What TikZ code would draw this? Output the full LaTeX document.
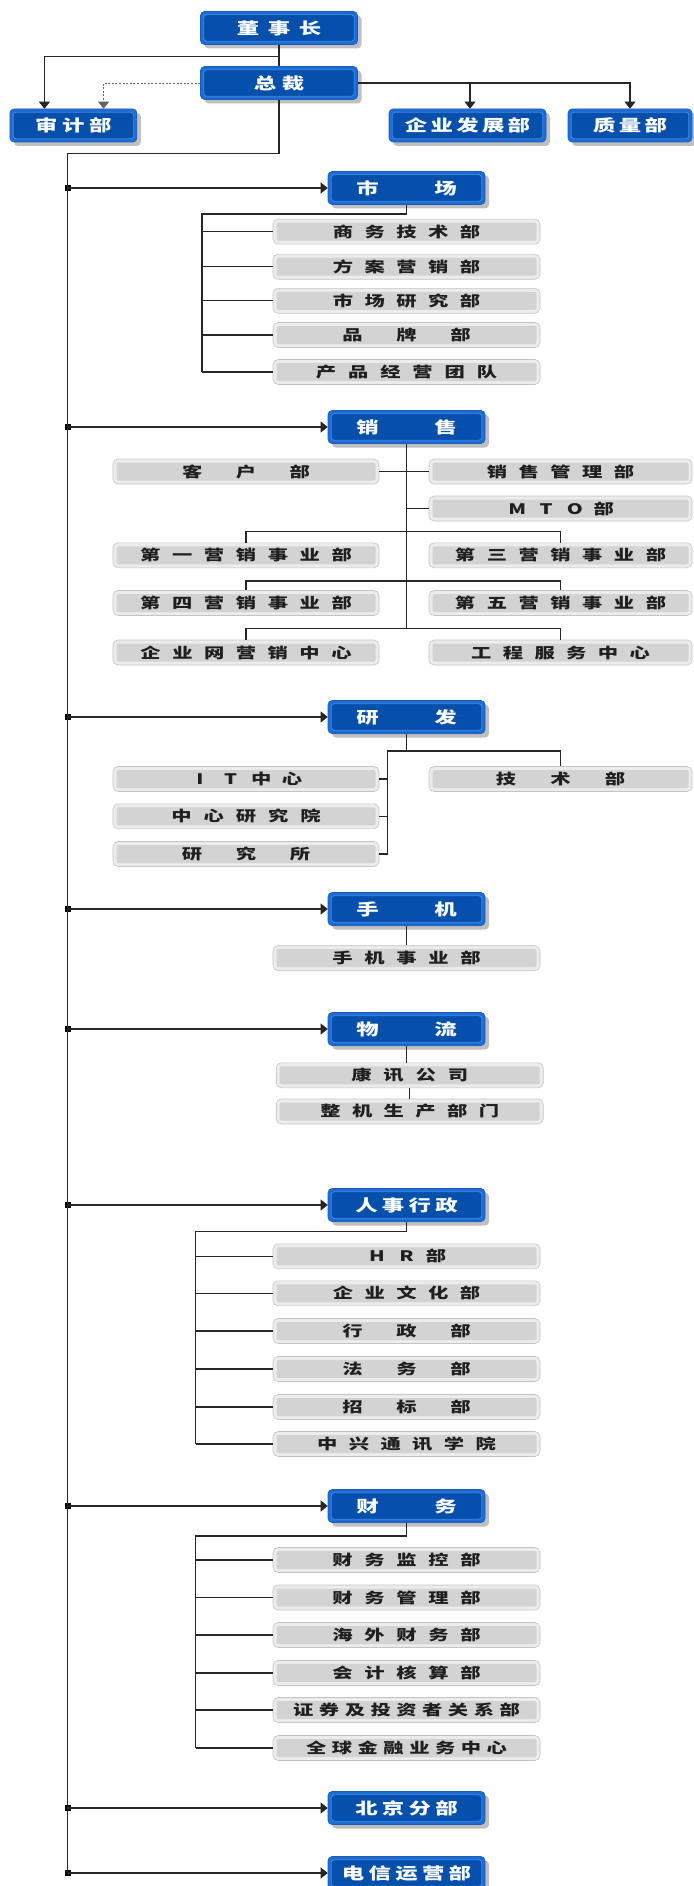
\documentclass[tikz,border=0pt]{standalone}
\usepackage{fontspec}
\usepackage{graphicx}
\newfontfamily\cjk{Noto Sans CJK SC}
\usetikzlibrary{arrows.meta,shadows}
\definecolor{bout}{HTML}{1F6CD6}
\definecolor{bin}{HTML}{0650AC}
\definecolor{bline}{HTML}{3F8AE8}
\definecolor{gout}{HTML}{ECECEC}
\definecolor{gedge}{HTML}{C4C4C4}
\definecolor{gin}{HTML}{D3D3D3}
\newcommand\spreadtxt[2]{\def\sppitch{#1}\spreadloop#2\relax}
\def\spreadloop#1{\ifx\relax#1\else\makebox[\sppitch][c]{\scalebox{1.4}[1]{#1}}\expandafter\spreadloop\fi}
\tikzset{
  bluebox/.style={rounded corners=4pt, fill=bout, draw=bout!85!black, line width=0.6pt,
    minimum height=33pt, minimum width=157pt, inner sep=0pt, text=white,
    font=\cjk\bfseries\fontsize{16}{16}\selectfont,
    drop shadow={shadow xshift=4pt, shadow yshift=-4pt, fill=black, opacity=0.25},
    path picture={\draw[bline, line width=0.8pt, fill=bin, rounded corners=3pt]
      ([shift={(3.2pt,-3.2pt)}]path picture bounding box.north west) rectangle
      ([shift={(-3.2pt,3.2pt)}]path picture bounding box.south east);}},
  graybox/.style={rounded corners=5pt, fill=gout, draw=gedge, line width=0.6pt,
    minimum height=25pt, minimum width=267pt, inner sep=0pt, text=black!88,
    font=\cjk\bfseries\fontsize{14.5}{14.5}\selectfont,
    path picture={\fill[gin, rounded corners=2pt]
      ([shift={(3.5pt,-3.5pt)}]path picture bounding box.north west) rectangle
      ([shift={(-3.5pt,3.5pt)}]path picture bounding box.south east);}},
  conn/.style={line width=1.1pt, black!85},
  arr/.style={conn, -{Triangle[length=7pt,width=11pt]}},
  dasharr/.style={line width=0.9pt, black!60, dash pattern=on 2pt off 1.6pt, -{Triangle[length=7pt,width=11pt]}},
  jn/.style={fill=black, inner sep=0pt, minimum size=6pt, draw=none}
}
\begin{document}
\begin{tikzpicture}[x=1pt,y=-1pt]
\useasboundingbox (0,0) rectangle (693,1886);
% top level
\node[bluebox] (dsz) at (279,28) {\spreadtxt{31pt}{董事长}};
\node[bluebox] (zc) at (279,83) {\spreadtxt{28pt}{总裁}};
\node[bluebox, minimum width=127pt] (sj) at (73.4,125.5) {\spreadtxt{27pt}{审计部}};
\node[bluebox] (qyfz) at (467.5,125.5) {\spreadtxt{25.7pt}{企业发展部}};
\node[bluebox, minimum width=124pt] (zl) at (630,125.5) {\spreadtxt{25.8pt}{质量部}};
\coordinate (t1) at (44.4,56.7);
\coordinate (t2) at (103.6,83);
\coordinate (t3) at (630,83);
\coordinate (t4) at (470,83);
\draw[conn] (dsz.south) -- (zc.north);
\draw[arr] (dsz.south |- t1) -- (t1) -- (t1 |- sj.north);
\draw[dasharr] (zc.west) -- (t2) -- (t2 |- sj.north);
\draw[arr] (zc.east) -- (t3) -- (t3 |- zl.north);
\draw[arr] (t4) -- (t4 |- qyfz.north);
% sections
\node[bluebox] (sc) at (406.5,188) {\spreadtxt{78pt}{市场}};
\node[bluebox] (xs) at (406.5,427) {\spreadtxt{78pt}{销售}};
\node[bluebox] (yf) at (406.5,717) {\spreadtxt{78pt}{研发}};
\node[bluebox] (shj) at (406.5,909) {\spreadtxt{78pt}{手机}};
\node[bluebox] (wl) at (406.5,1029) {\spreadtxt{78pt}{物流}};
\node[bluebox] (rs) at (406.5,1205) {\spreadtxt{26.7pt}{人事行政}};
\node[bluebox] (cw) at (406.5,1506) {\spreadtxt{78pt}{财务}};
\node[bluebox] (bj) at (406.5,1808) {\spreadtxt{26.7pt}{北京分部}};
\node[bluebox] (dx) at (406.5,1873) {\spreadtxt{26.7pt}{电信运营部}};
% spine
\coordinate (sp0) at (67.6,153.3);
\node[jn] (j1) at (67.6,188) {};
\node[jn] (j2) at (67.6,427) {};
\node[jn] (j3) at (67.6,717) {};
\node[jn] (j4) at (67.6,909) {};
\node[jn] (j5) at (67.6,1029) {};
\node[jn] (j6) at (67.6,1205) {};
\node[jn] (j7) at (67.6,1506) {};
\node[jn] (j8) at (67.6,1808) {};
\node[jn] (j9) at (67.6,1873) {};
\draw[conn] (zc.south) |- (sp0) -- (j9.center);
\foreach \j/\b in {j1/sc,j2/xs,j3/yf,j4/shj,j5/wl,j6/rs,j7/cw,j8/bj,j9/dx}
  \draw[arr] (\j.center) -- (\b.west);
% market
\node[graybox] (m1) at (406.5,231.7) {\spreadtxt{31.8pt}{商务技术部}};
\node[graybox] (m2) at (406.5,266.7) {\spreadtxt{31.8pt}{方案营销部}};
\node[graybox] (m3) at (406.5,300.8) {\spreadtxt{31.8pt}{市场研究部}};
\node[graybox] (m4) at (406.5,335) {\spreadtxt{54pt}{品牌部}};
\node[graybox] (m5) at (406.5,372) {\spreadtxt{32.2pt}{产品经营团队}};
\coordinate (mb) at (202,214);
\draw[conn] (sc.south) |- (mb) -- (mb |- m5.west);
\foreach \n in {m1,m2,m3,m4,m5} \draw[conn] (mb |- \n.west) -- (\n.west);
% sales
\node[graybox, minimum width=266pt] (kh) at (246,471.5) {\spreadtxt{53.8pt}{客户部}};
\node[graybox, minimum width=263pt] (xsgl) at (560.5,471.5) {\spreadtxt{31.7pt}{销售管理部}};
\node[graybox, minimum width=263pt] (mto) at (560.5,508.5) {\spreadtxt{28.9pt}{MTO部}};
\node[graybox, minimum width=266pt] (d1) at (246,555.3) {\spreadtxt{31.9pt}{第一营销事业部}};
\node[graybox, minimum width=263pt] (d3) at (560.5,555.3) {\spreadtxt{31.8pt}{第三营销事业部}};
\node[graybox, minimum width=266pt] (d4) at (246,603) {\spreadtxt{31.9pt}{第四营销事业部}};
\node[graybox, minimum width=263pt] (d5) at (560.5,603) {\spreadtxt{31.8pt}{第五营销事业部}};
\node[graybox, minimum width=266pt] (qyw) at (246,652.5) {\spreadtxt{31.8pt}{企业网营销中心}};
\node[graybox, minimum width=263pt] (gcfw) at (560.5,652.5) {\spreadtxt{31.7pt}{工程服务中心}};
\coordinate (xb1) at (0,531.7);
\coordinate (xb2) at (0,581);
\coordinate (xb3) at (0,628.3);
\draw[conn] (xs.south) -- (xs.south |- xb3);
\draw[conn] (kh.east) -- (xsgl.west);
\draw[conn] (xs.south |- mto.west) -- (mto.west);
\draw[conn] (d1.north) -- (d1.north |- xb1) -- (d3.north |- xb1) -- (d3.north);
\draw[conn] (d4.north) -- (d4.north |- xb2) -- (d5.north |- xb2) -- (d5.north);
\draw[conn] (qyw.north) -- (qyw.north |- xb3) -- (gcfw.north |- xb3) -- (gcfw.north);
% R&D
\node[graybox, minimum width=266pt] (it) at (246,779) {\spreadtxt{30.7pt}{IT中心}};
\node[graybox, minimum width=266pt] (zxy) at (246,816.3) {\spreadtxt{32.2pt}{中心研究院}};
\node[graybox, minimum width=266pt] (yjs) at (246,854) {\spreadtxt{54pt}{研究所}};
\node[graybox, minimum width=263pt] (js) at (560.5,779) {\spreadtxt{54.4pt}{技术部}};
\coordinate (yb) at (387.6,751);
\draw[conn] (yf.south) -- (yf.south |- yb);
\draw[conn] (yb |- yjs.east) -- (yb) -- (js.north |- yb) -- (js.north);
\foreach \n in {it,zxy,yjs} \draw[conn] (yb |- \n.east) -- (\n.east);
% phone
\node[graybox] (sjsy) at (406.5,958.2) {\spreadtxt{32pt}{手机事业部}};
\draw[conn] (shj.south) -- (sjsy.north);
% logistics
\node[graybox] (kx) at (409.7,1075.3) {\spreadtxt{32.2pt}{康讯公司}};
\node[graybox] (zj) at (409.7,1111.5) {\spreadtxt{31.7pt}{整机生产部门}};
\draw[conn] (wl.south) -- (wl.south |- kx.north);
\draw[conn] (kx.south) -- (zj.north);
% HR
\node[graybox] (h1) at (406.5,1256.3) {\spreadtxt{29.5pt}{HR部}};
\node[graybox] (h2) at (406.5,1293.3) {\spreadtxt{31.7pt}{企业文化部}};
\node[graybox] (h3) at (406.5,1331) {\spreadtxt{54pt}{行政部}};
\node[graybox] (h4) at (406.5,1369) {\spreadtxt{54pt}{法务部}};
\node[graybox] (h5) at (406.5,1407) {\spreadtxt{54pt}{招标部}};
\node[graybox] (h6) at (406.5,1444) {\spreadtxt{31.7pt}{中兴通讯学院}};
\coordinate (hb) at (195.6,1231.7);
\draw[conn] (rs.south) |- (hb) -- (hb |- h6.west);
\foreach \n in {h1,h2,h3,h4,h5,h6} \draw[conn] (hb |- \n.west) -- (\n.west);
% finance
\node[graybox] (f1) at (406.5,1560) {\spreadtxt{32pt}{财务监控部}};
\node[graybox] (f2) at (406.5,1597.5) {\spreadtxt{32pt}{财务管理部}};
\node[graybox] (f3) at (406.5,1635) {\spreadtxt{32pt}{海外财务部}};
\node[graybox] (f4) at (406.5,1673) {\spreadtxt{32pt}{会计核算部}};
\node[graybox] (f5) at (406.5,1710) {\spreadtxt{25.8pt}{证券及投资者关系部}};
\node[graybox] (f6) at (406.5,1748) {\spreadtxt{25.8pt}{全球金融业务中心}};
\coordinate (fb) at (195.6,1536);
\draw[conn] (cw.south) |- (fb) -- (fb |- f6.west);
\foreach \n in {f1,f2,f3,f4,f5,f6} \draw[conn] (fb |- \n.west) -- (\n.west);
\end{tikzpicture}
\end{document}
